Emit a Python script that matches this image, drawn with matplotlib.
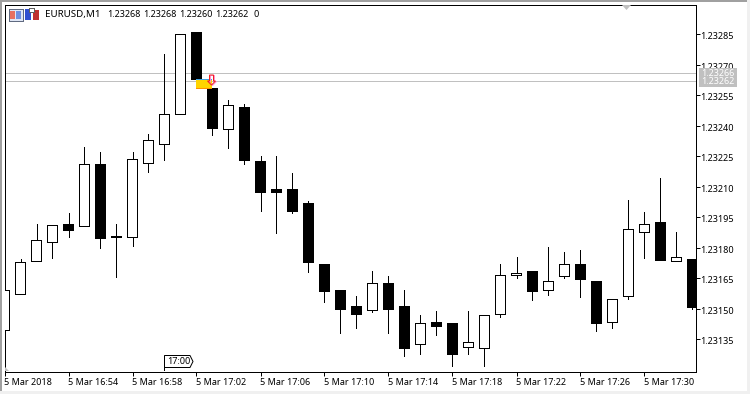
import numpy as np
import matplotlib
matplotlib.use('Agg')
import matplotlib.pyplot as plt
from matplotlib.patches import Rectangle, Polygon
from matplotlib.transforms import Affine2D, ScaledTranslation

# candle values in points above 1.23000, one per minute from 16:50
opens = [139.9, 157.6, 173.8, 182.7, 192.0, 190.6, 221.1, 185.2, 185.6, 222.0, 230.9,
         246.1, 286.0, 258.9, 238.3, 249.1, 223.0, 208.8, 208.8, 201.9, 171.9, 159.1,
         151.7, 149.3, 163.0, 151.7, 133.0, 143.8, 142.9, 131.5, 130.6, 147.3, 166.9,
         168.9, 159.1, 166.0, 171.9, 164.0, 143.8, 156.6, 188.1, 193.0, 173.8, 174.8]
highs = [159.1, 174.8, 192.0, 191.1, 197.0, 229.9, 227.0, 192.0, 227.0, 236.3, 275.2,
         285.0, 286.0, 258.9, 253.0, 251.0, 225.0, 225.0, 217.1, 202.9, 171.9, 159.1,
         156.6, 168.9, 166.0, 159.1, 146.8, 148.8, 142.9, 148.8, 146.8, 171.9, 175.8,
         168.9, 180.7, 177.8, 178.8, 164.0, 154.7, 203.8, 197.9, 214.2, 188.1, 174.8]
lows = [139.9, 157.6, 173.8, 175.3, 185.6, 190.6, 180.2, 165.5, 181.2, 217.6, 223.5,
        246.1, 262.9, 235.8, 229.4, 221.5, 198.4, 187.6, 197.4, 168.4, 153.2, 138.4,
        140.4, 148.3, 138.4, 127.1, 128.1, 137.4, 122.2, 128.1, 122.2, 146.3, 165.0,
        154.2, 157.1, 165.0, 156.1, 139.4, 140.4, 154.7, 175.3, 174.3, 173.8, 150.2]
closes = [159.1, 172.9, 183.7, 191.1, 188.6, 221.1, 184.7, 186.1, 224.0, 232.9, 246.1,
          285.0, 262.9, 238.8, 250.1, 223.5, 207.3, 207.3, 198.4, 173.3, 158.6, 150.2,
          147.3, 163.0, 150.2, 131.0, 142.9, 141.4, 128.1, 134.0, 146.8, 166.9, 167.9,
          158.6, 164.0, 171.9, 164.5, 143.3, 154.7, 189.1, 192.0, 174.3, 175.8, 151.2]

price_ticks = [1.23285, 1.23270, 1.23255, 1.23240, 1.23225, 1.23210,
               1.23195, 1.23180, 1.23165, 1.23150, 1.23135]
time_ticks = [0, 4, 8, 12, 16, 20, 24, 28, 32, 36, 40]
time_labels = ['5 Mar 2018', '5 Mar 16:54', '5 Mar 16:58', '5 Mar 17:02', '5 Mar 17:06',
               '5 Mar 17:10', '5 Mar 17:14', '5 Mar 17:18', '5 Mar 17:22', '5 Mar 17:26',
               '5 Mar 17:30']
level_lines = [1.23266, 1.23262]
header_prices = ['1.23268', '1.23268', '1.23260', '1.23262']

font = 'Noto Sans'
fsize = 6.5

o = 1.23 + np.array(opens) / 1e5
h = 1.23 + np.array(highs) / 1e5
l = 1.23 + np.array(lows) / 1e5
c = 1.23 + np.array(closes) / 1e5
x = np.arange(len(o))
up = c >= o

fig = plt.figure(figsize=(7.5, 3.94), dpi=100, facecolor='white')
ax = fig.add_axes([4.5 / 750, 1 - 371.5 / 394, 691 / 750, 367 / 394])
ax.set_xlim(0, 691 / 16)
ax.set_ylim(1.23 + 119.25 / 1e5, 1.23 + 299.75 / 1e5)

for s in ax.spines.values():
    s.set_linewidth(0.72)
    s.set_antialiased(False)
ax.spines['top'].set_zorder(8)

# levels behind the candles
for lv in level_lines:
    ax.axhline(lv, color='#c0c0c0', lw=0.72, antialiased=False, zorder=1)

# bodies snap one pixel to the right otherwise
nudge = 0.03
ax.vlines(x, l, h, color='black', lw=0.72, antialiased=False, zorder=2)
ax.bar(x[up] - nudge, (c - o)[up], bottom=o[up], width=0.625, facecolor='white', edgecolor='black',
       linewidth=0.72, antialiased=False, zorder=3)
ax.bar(x[~up] - nudge, (c - o)[~up], bottom=o[~up], width=0.625, facecolor='black', edgecolor='black',
       linewidth=0.72, antialiased=False, zorder=3)

ax.yaxis.tick_right()
ax.set_yticks(price_ticks)
ax.set_yticklabels(['%.5f' % p for p in price_ticks], fontfamily=font, fontsize=fsize)
ax.tick_params(axis='y', length=2.9, width=0.72, pad=0.6)
ax.set_xticks(time_ticks)
ax.set_xticklabels(time_labels, fontfamily=font, fontsize=fsize, ha='left')
ax.tick_params(axis='x', length=2.9, width=0.72, pad=2)

# price labels sit a little under their ticks
for t in ax.get_yticklabels():
    t.set_transform(t.get_transform() + ScaledTranslation(0, -1.5 / 100, fig.dpi_scale_trans))

# window furniture, in pixels from the top left corner
px = Affine2D().scale(1 / 750, -1 / 394).translate(0, 1) + fig.transFigure


def box(x0, y0, w, ht, color, **kw):
    fig.add_artist(Rectangle((x0, y0), w, ht, transform=px, facecolor=color,
                             edgecolor=kw.pop('edge', 'none'), linewidth=kw.pop('lw', 0),
                             antialiased=False, zorder=kw.pop('zorder', 10), **kw))


def poly(pts, color, edge='none', lw=0.0, zorder=10):
    fig.add_artist(Polygon(pts, closed=True, transform=px, facecolor=color, edgecolor=edge,
                           linewidth=lw, zorder=zorder))


box(0, 0, 750, 2, '#a0a0a0')
box(0, 0, 2, 394, '#a0a0a0')
box(0, 391, 750, 3, '#f0f0f0')
box(747, 0, 3, 394, '#f0f0f0')

# price labels of the two levels
box(698.5, 68, 38.5, 19, '#c0c0c0', zorder=11)
for yy, s in [(73.5, '1.23266'), (81.5, '1.23262')]:
    fig.text(701 / 750, 1 - yy / 394, s, color='white', fontfamily=font, fontsize=fsize,
             va='center', ha='left', zorder=12)

# header text and its two icons
fig.text(45 / 750, 1 - 14.5 / 394, 'EURUSD,M1', fontfamily=font, fontsize=7, va='center', zorder=12)
for xx, s in zip([107, 143, 179, 215], header_prices):
    fig.text(xx / 750, 1 - 14.5 / 394, s, fontfamily=font, fontsize=fsize, va='center', zorder=12)
fig.text(253 / 750, 1 - 14.5 / 394, '0', fontfamily=font, fontsize=fsize, va='center', zorder=12)
box(8.5, 8.5, 14, 12, '#dfe6f5', edge='#606a80', lw=0.72)
box(10, 11, 5, 8, '#e87060')
box(16, 11, 5, 8, '#7090e0')
box(25, 9, 6, 11, '#3050d0')
box(33, 10, 6, 10, '#c03030')
box(29, 8, 5, 4, 'white', edge='#606060', lw=0.5)

# yellow box and arrow next to the 17:03 candle
box(196, 79, 16, 10, '#ffd400', zorder=6)
box(196, 79, 16, 1, '#40a0e0', zorder=6)
box(196, 88, 16, 1, '#ff9000', zorder=6)
arrow = [(0, 0), (4, 0), (4, 6), (6, 6), (2, 10), (-2, 6), (0, 6)]
poly([(a + 210.5, b + 75.5) for a, b in arrow], 'none', '#ff90d0', 0.72, 6)
poly([(a + 209.5, b + 75) for a, b in arrow], 'none', '#f02020', 0.72, 7)

# small grey marks on the chart edge
poly([(622, 5), (631, 5), (626.5, 10)], '#c0c0c0')
poly([(5, 367), (5, 371), (9, 371)], '#c0c0c0')

# 17:00 flag
poly([(164.5, 355.5), (190, 355.5), (193, 361.5), (190, 367.5), (164.5, 367.5)], 'white',
     'black', 0.72)
box(164, 367, 1, 4, 'black')
fig.text(167 / 750, 1 - 361.5 / 394, '17:00', fontfamily=font, fontsize=fsize, va='center',
         zorder=12)

fig.savefig('out.png', dpi=100, facecolor='white')
